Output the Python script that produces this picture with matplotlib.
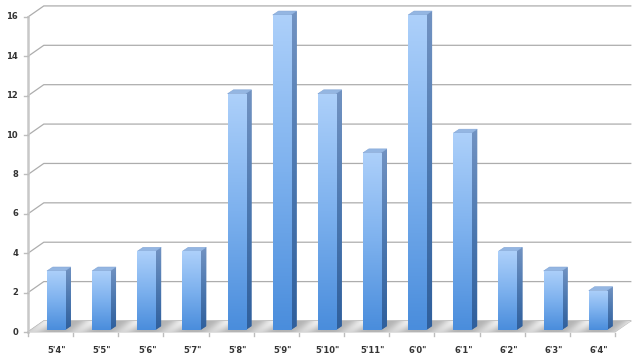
import numpy as np
import matplotlib
matplotlib.use("Agg")
import matplotlib.pyplot as plt
from matplotlib.patches import Polygon, Rectangle
from matplotlib.colors import LinearSegmentedColormap

heights = ["5'4\"", "5'5\"", "5'6\"", "5'7\"", "5'8\"", "5'9\"", "5'10\"",
           "5'11\"", "6'0\"", "6'1\"", "6'2\"", "6'3\"", "6'4\""]
counts = [3, 3, 4, 4, 12, 16, 12, 9, 16, 10, 4, 3, 2]
y_ticks = [0, 2, 4, 6, 8, 10, 12, 14, 16]

# perspective offsets (data units)
WALL_DX, WALL_DY = 0.35, 0.56
BAR_DX, BAR_DY = 0.13, 0.2
BAR_OFF, BAR_W, BAR_Y0 = -0.08, 0.40, 0.1

fig = plt.figure(figsize=(6.44, 3.64), dpi=100)
ax = fig.add_axes([0, 0, 1, 1])
n = len(counts)
ax.set_xlim(-1.120, 13.143)
ax.set_ylim(-1.625, 16.861)
ax.axis("off")

x_left, x_right = -0.5, n - 0.5
grid_col = "#adadad"

# back wall gridlines
for v in y_ticks:
    ax.plot([x_left, x_left + WALL_DX, x_right + WALL_DX],
            [v, v + WALL_DY, v + WALL_DY], color=grid_col, lw=0.9, zorder=1)

# left axis line + ticks + labels
ax.plot([x_left, x_left], [0, y_ticks[-1]], color="#c8c8c8", lw=1.8, zorder=2)
for v in y_ticks:
    ax.plot([x_left - 0.08, x_left], [v, v], color="#bdbdbd", lw=1.0, zorder=2)
    ax.text(x_left - 0.22, v, str(v), ha="right", va="center",
            fontsize=6, fontweight="bold", color="#333333")

# floor with diagonal light streaks between bars
floor = Polygon([[x_left, 0], [x_right, 0], [x_right + WALL_DX, WALL_DY],
                 [x_left + WALL_DX, WALL_DY]], closed=True,
                facecolor="#d0d0d0", edgecolor="#c0c0c0", lw=0.7, zorder=2)
ax.add_patch(floor)
gx = np.linspace(x_left, x_right + WALL_DX, 900)
gd = np.linspace(0, 1, 20)
GX, GD = np.meshgrid(gx, gd)
u = GX - GD * WALL_DX
tex = 0.5 + 0.5 * np.cos(2 * np.pi * (u - 0.62))
tex = tex ** 2 * (0.55 + 0.45 * GD)
floor_cmap = LinearSegmentedColormap.from_list("fl", ["#b4b4b4", "#f2f2f2"])
im = ax.imshow(tex, cmap=floor_cmap, extent=(x_left, x_right + WALL_DX, 0, WALL_DY),
               origin="lower", aspect="auto", zorder=2.1)
im.set_clip_path(floor)

# x axis ticks, labels
for k in range(n + 1):
    ax.plot([x_left + k, x_left + k], [-0.05, -0.2], color="#bdbdbd", lw=1.0, zorder=2)
for i, lab in enumerate(heights):
    ax.text(i + BAR_OFF + BAR_W / 2 + 0.02, -0.93, lab, ha="center", va="center",
            fontsize=6, fontweight="bold", color="#333333")

front_cmap = LinearSegmentedColormap.from_list(
    "front", ["#4a8ddc", "#7db1ee", "#add0fa"])
side_cmap = LinearSegmentedColormap.from_list(
    "side", ["#2f5f9c", "#4c78b0", "#7293c2"])
grad = np.linspace(0, 1, 128).reshape(-1, 1)

for i, v in enumerate(counts):
    x0 = i + BAR_OFF
    x1 = x0 + BAR_W
    y0 = BAR_Y0
    y1 = v + BAR_Y0
    # side face
    side = Polygon([[x1, y0], [x1 + BAR_DX, y0 + BAR_DY], [x1 + BAR_DX, y1 + BAR_DY], [x1, y1]],
                   closed=True, facecolor="#4a76ae", edgecolor="none", zorder=3)
    ax.add_patch(side)
    im = ax.imshow(grad, cmap=side_cmap, extent=(x1, x1 + BAR_DX, y0, y1 + BAR_DY),
                   origin="lower", aspect="auto", zorder=3.1)
    im.set_clip_path(side)
    # top face
    top = Polygon([[x0, y1], [x1, y1], [x1 + BAR_DX, y1 + BAR_DY], [x0 + BAR_DX, y1 + BAR_DY]],
                  closed=True, facecolor="#94b6e2", edgecolor="#83a6d6", lw=0.4, zorder=3.2)
    ax.add_patch(top)
    # front face
    front = Rectangle((x0, y0), BAR_W, v, facecolor="#7db1ee", edgecolor="none", zorder=3.3)
    ax.add_patch(front)
    im = ax.imshow(grad, cmap=front_cmap, extent=(x0, x1, y0, y1),
                   origin="lower", aspect="auto", zorder=3.4)
    im.set_clip_path(front)

fig.savefig("out.png", dpi=100, facecolor="white")
